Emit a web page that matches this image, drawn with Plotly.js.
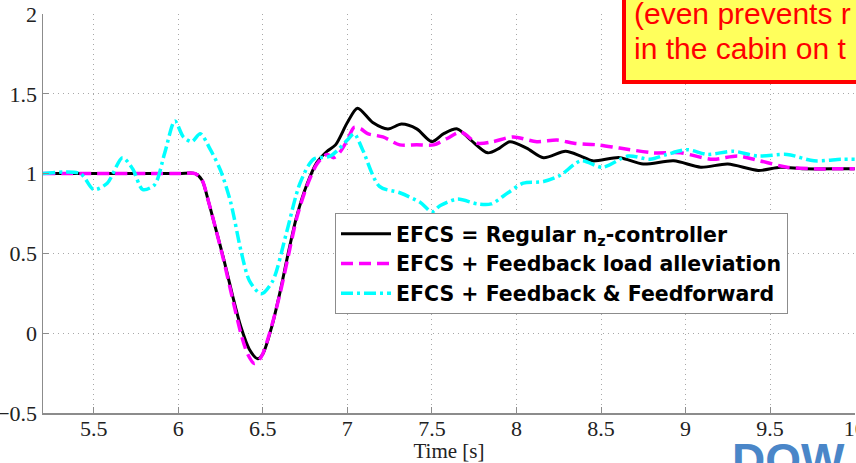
<!DOCTYPE html>
<html>
<head>
<meta charset="utf-8">
<script src="https://cdn.plot.ly/plotly-3.0.1.min.js"></script>
<style>html,body{margin:0;padding:0;background:#fff;}#chart{width:856px;height:463px;}</style>
</head>
<body>
<div id="chart"></div>
<script>
// Series: EFCS = Regular nz-controller
const xRegular = [5.2, 6.0, 6.10, 6.14, 6.18, 6.22, 6.27, 6.32, 6.37, 6.42, 6.47, 6.50, 6.55, 6.60, 6.65, 6.70, 6.76, 6.82, 6.88, 6.93, 7.0, 7.06, 7.15, 7.24, 7.32, 7.41, 7.50, 7.57, 7.65, 7.73, 7.83, 7.90, 7.96, 8.06, 8.16, 8.29, 8.38, 8.45, 8.61, 8.75, 8.93, 9.09, 9.25, 9.43, 9.56, 9.70, 9.92, 10.0];
const yRegular = [1, 1, 1.0, 0.96, 0.82, 0.66, 0.46, 0.24, 0.04, -0.10, -0.16, -0.13, 0.03, 0.25, 0.50, 0.73, 0.93, 1.07, 1.14, 1.18, 1.32, 1.41, 1.32, 1.28, 1.31, 1.28, 1.20, 1.25, 1.28, 1.21, 1.13, 1.16, 1.20, 1.16, 1.10, 1.14, 1.11, 1.08, 1.10, 1.06, 1.08, 1.04, 1.06, 1.02, 1.04, 1.03, 1.03, 1.03];

// Series: EFCS + Feedback load alleviation
const xFeedback = [5.2, 6.0, 6.10, 6.14, 6.18, 6.22, 6.27, 6.32, 6.37, 6.41, 6.45, 6.49, 6.54, 6.60, 6.65, 6.70, 6.76, 6.82, 6.88, 6.92, 6.96, 7.0, 7.04, 7.08, 7.12, 7.21, 7.31, 7.41, 7.51, 7.59, 7.67, 7.77, 7.86, 7.98, 8.12, 8.24, 8.34, 8.48, 8.61, 8.81, 8.97, 9.16, 9.31, 9.44, 9.60, 9.76, 9.92, 10.0];
const yFeedback = [1, 1, 1.0, 0.96, 0.82, 0.66, 0.45, 0.22, 0.0, -0.13, -0.19, -0.15, 0.0, 0.24, 0.48, 0.72, 0.92, 1.06, 1.12, 1.10, 1.14, 1.21, 1.29, 1.28, 1.25, 1.23, 1.18, 1.18, 1.18, 1.22, 1.26, 1.19, 1.20, 1.23, 1.20, 1.21, 1.19, 1.18, 1.16, 1.13, 1.13, 1.09, 1.11, 1.08, 1.04, 1.03, 1.03, 1.03];

// Series: EFCS + Feedback & Feedforward
const xFeedforward = [5.2, 5.42, 5.50, 5.58, 5.67, 5.73, 5.79, 5.86, 5.92, 5.98, 6.03, 6.08, 6.13, 6.19, 6.25, 6.31, 6.37, 6.42, 6.48, 6.50, 6.56, 6.64, 6.72, 6.80, 6.90, 7.0, 7.04, 7.09, 7.19, 7.31, 7.43, 7.50, 7.55, 7.65, 7.77, 7.85, 7.95, 8.04, 8.16, 8.26, 8.38, 8.51, 8.66, 8.79, 8.89, 9.01, 9.13, 9.28, 9.43, 9.60, 9.76, 9.92, 10.0];
const yFeedforward = [1, 1.0, 0.90, 0.94, 1.10, 1.03, 0.90, 0.93, 1.13, 1.33, 1.23, 1.20, 1.25, 1.15, 1.02, 0.82, 0.52, 0.33, 0.25, 0.25, 0.33, 0.63, 0.94, 1.09, 1.11, 1.21, 1.25, 1.15, 0.92, 0.88, 0.82, 0.76, 0.80, 0.84, 0.81, 0.81, 0.88, 0.94, 0.95, 0.99, 1.08, 1.04, 1.11, 1.09, 1.12, 1.15, 1.12, 1.14, 1.11, 1.12, 1.08, 1.09, 1.09];

const seriesNames = ["EFCS = Regular n<sub>z</sub>-controller", "EFCS + Feedback load alleviation", "EFCS + Feedback &amp; Feedforward"];
const xTickVals = [5.5, 6, 6.5, 7, 7.5, 8, 8.5, 9, 9.5, 10];
const xTickText = ["5.5", "6", "6.5", "7", "7.5", "8", "8.5", "9", "9.5", "10"];
const yTickVals = [-0.5, 0, 0.5, 1, 1.5, 2];
const yTickText = ["\u22120.5", "0", "0.5", "1", "1.5", "2"];
const xAxisTitle = "Time [s]";
const noteLines = ["(even prevents r", "in the cabin on t"];
const cornerText = "DOW";

const serif = "Liberation Serif";
const sans = "Liberation Sans";

const traces = [
  {x: xRegular, y: yRegular, name: seriesNames[0], mode: "lines",
   line: {color: "#000000", width: 3, shape: "spline", smoothing: 0.8}},
  {x: xFeedback, y: yFeedback, name: seriesNames[1], mode: "lines",
   line: {color: "#ff00ff", width: 3.5, dash: "12px,6px", shape: "spline", smoothing: 0.8}},
  {x: xFeedforward, y: yFeedforward, name: seriesNames[2], mode: "lines",
   line: {color: "#00ffff", width: 3.5, dash: "12px,4px,3px,4px", shape: "spline", smoothing: 0.8}}
];

function axisBase() {
  return {
    showline: true, linecolor: "#8c8c8c", linewidth: 1.5,
    ticks: "inside", ticklen: 6, tickcolor: "#8c8c8c", tickwidth: 1,
    showgrid: true, gridcolor: "#a8a8a8", griddash: "1px,4px", gridwidth: 1,
    zeroline: false, mirror: false, ticklabeloverflow: "allow",
    tickfont: {family: serif, size: 22, color: "#222222"}
  };
}

const xaxis = axisBase();
Object.assign(xaxis, {
  range: [5.2, 10.002], tickmode: "array", tickvals: xTickVals, ticktext: xTickText,
  ticklabelstandoff: -5,
  title: {text: xAxisTitle, font: {family: serif, size: 21, color: "#222222"}, standoff: 0}
});
const yaxis = axisBase();
Object.assign(yaxis, {
  range: [-0.5, 2], tickmode: "array", tickvals: yTickVals, ticktext: yTickText
});

const layout = {
  width: 856, height: 463,
  margin: {l: 43, r: 1, t: 14, b: 50},
  paper_bgcolor: "#fff", plot_bgcolor: "#fff",
  font: {family: serif, size: 22, color: "#222222"},
  showlegend: true,
  xaxis: xaxis,
  yaxis: yaxis,
  legend: {
    x: (335 - 43) / 812, y: (413 - 213) / 399, xanchor: "left", yanchor: "top",
    bgcolor: "#ffffff", bordercolor: "#8c8c8c", borderwidth: 1,
    font: {family: "DejaVu Sans", size: 20.5, color: "#000000", weight: "bold"},
    itemwidth: 50, tracegroupgap: 0
  },
  shapes: [
    {type: "rect", xref: "paper", yref: "paper", x0: (624 - 43) / 812, x1: 1.2,
     y0: (413 - 82) / 399, y1: 1.2, fillcolor: "#ffff5c", line: {color: "#ff0000", width: 4}, layer: "above"}
  ],
  annotations: [
    {xref: "paper", yref: "paper", x: (632 - 43) / 812, y: (413 - 13) / 399, xanchor: "left", yanchor: "middle",
     text: noteLines[0], showarrow: false, font: {family: sans, size: 30, color: "#ff0000"}},
    {xref: "paper", yref: "paper", x: (632 - 43) / 812, y: (413 - 48) / 399, xanchor: "left", yanchor: "middle",
     text: noteLines[1], showarrow: false, font: {family: sans, size: 30, color: "#ff0000"}},
    {xref: "paper", yref: "paper", x: (730 - 43) / 812, y: (413 - 432) / 399, xanchor: "left", yanchor: "top",
     text: "<b>" + cornerText + "</b>", showarrow: false, font: {family: sans, size: 46, color: "#4a86c8"}}
  ]
};

Plotly.newPlot("chart", traces, layout, {displayModeBar: false, staticPlot: true});
</script>
</body>
</html>
